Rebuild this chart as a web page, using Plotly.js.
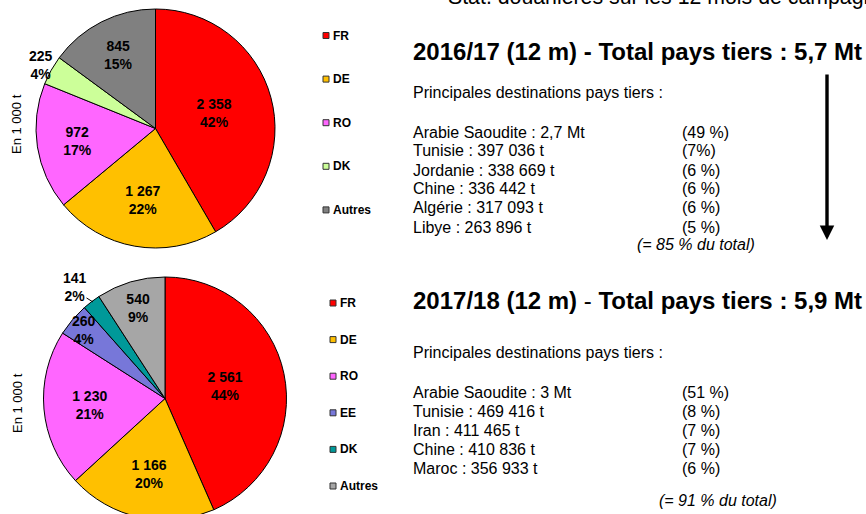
<!DOCTYPE html>
<html><head><meta charset="utf-8">
<script src="https://cdn.plot.ly/plotly-3.0.1.min.js"></script>
<style>
html,body{margin:0;padding:0;overflow:hidden;width:866px;height:514px;background:#fff}
#chart{position:absolute;left:0;top:-30px;width:866px;height:574px}
</style>
</head><body><div id="chart"></div>
<script>
// ---- data ----
const countries1 = ['FR', 'DE', 'RO', 'DK', 'Autres'];
const values1 = [2358, 1267, 972, 225, 845];
const pct1 = [42, 22, 17, 4, 15];
const colors1 = ['#FF0000', '#FFC000', '#FF66FF', '#CCFF99', '#808080'];

const countries2 = ['FR', 'DE', 'RO', 'EE', 'DK', 'Autres'];
const values2 = [2561, 1166, 1230, 260, 141, 540];
const pct2 = [44, 20, 21, 4, 2, 9];
const colors2 = ['#FF0000', '#FFC000', '#FF66FF', '#7777D9', '#009999', '#A6A6A6'];

const headerText = 'Stat. douanières sur les 12 mois de campagne';
const title1 = '<b>2016/17 (12 m) - Total pays tiers : 5,7 Mt</b>';
const title2 = '<b>2017/18 (12 m)</b> - <b>Total pays tiers : 5,9 Mt</b>';
const subTitle = 'Principales destinations pays tiers :';
const unitLabel = 'En 1 000 t';

const dest1 = ['Arabie Saoudite : 2,7 Mt', 'Tunisie : 397 036 t', 'Jordanie : 338 669 t',
  'Chine : 336 442 t', 'Algérie : 317 093 t', 'Libye : 263 896 t'];
const destPct1 = ['(49 %)', '(7%)', '(6 %)', '(6 %)', '(6 %)', '(5 %)'];
const total1 = '(= 85 % du total)';

const dest2 = ['Arabie Saoudite : 3 Mt', 'Tunisie : 469 416 t', 'Iran : 411 465 t',
  'Chine : 410 836 t', 'Maroc : 356 933 t'];
const destPct2 = ['(51 %)', '(8 %)', '(7 %)', '(7 %)', '(6 %)'];
const total2 = '(= 91 % du total)';

// ---- geometry helpers (page pixels -> paper) ----
const W = 866, T = 30, H = 574;
const X = px => px / W;
const Y = py => 1 - (py + T) / H;
const FONT = 'Liberation Sans, Arial, sans-serif';

// small slices get their labels placed beside the slice (see annotations)
const textPos1 = ['inside', 'inside', 'inside', 'none', 'inside'];
const textPos2 = ['inside', 'inside', 'inside', 'none', 'none', 'inside'];

const labelFont = {family: FONT, size: 14, color: '#000', weight: 'bold'};
const pieCommon = {
  type: 'pie', sort: false, direction: 'clockwise', rotation: 0, hole: 0,
  showlegend: false, hoverinfo: 'label+value+percent',
  texttemplate: '%{value:,}<br>%{customdata}%',
  insidetextorientation: 'horizontal',
  textfont: labelFont, insidetextfont: labelFont, outsidetextfont: labelFont
};

const trace1 = Object.assign({}, pieCommon, {
  labels: countries1, values: values1, customdata: pct1,
  marker: {colors: colors1, line: {color: '#000', width: 1}},
  textposition: textPos1,
  domain: {x: [X(36), X(275)], y: [Y(248), Y(9)]}
});
const trace2 = Object.assign({}, pieCommon, {
  labels: countries2, values: values2, customdata: pct2,
  marker: {colors: colors2, line: {color: '#000', width: 1}},
  textposition: textPos2,
  domain: {x: [X(43.5), X(286.5)], y: [Y(520), Y(277)]}
});

const annotations = [];
const shapes = [];
function txt(text, x, y, size, opts) {
  annotations.push(Object.assign({
    text: text, x: X(x), y: Y(y), xref: 'paper', yref: 'paper',
    xanchor: 'left', yanchor: 'middle', showarrow: false,
    font: {family: FONT, size: size, color: '#000'}
  }, opts || {}));
}
const fmt = v => String(v).replace(/\B(?=(\d{3})+(?!\d))/g, ' ');

// header (cut at top)
txt(headerText, 446, -3.5, 21.3);
// titles
txt(title1, 411, 51, 24);
txt(title2, 411, 300, 24);
// lists
txt(subTitle, 411, 92, 16);
dest1.forEach((d, i) => { txt(d, 411, 132 + 19 * i, 16); txt(destPct1[i], 680, 132 + 19 * i, 16); });
txt('<i>' + total1 + '</i>', 635, 244, 16);
txt(subTitle, 411, 352, 16);
dest2.forEach((d, i) => { txt(d, 411, 392 + 19 * i, 16); txt(destPct2[i], 680, 392 + 19 * i, 16); });
txt('<i>' + total2 + '</i>', 657, 500, 16);
// unit labels
txt(unitLabel, 16, 124, 13, {xanchor: 'center', textangle: -90});
txt(unitLabel, 17, 403, 13, {xanchor: 'center', textangle: -90});

// small slice labels
txt('<b>' + fmt(values1[3]) + '<br>' + pct1[3] + '%</b>', 41, 65, 14, {xanchor: 'center'});
txt('<b>' + fmt(values2[3]) + '<br>' + pct2[3] + '%</b>', 84, 330, 14, {xanchor: 'center'});
txt('<b>' + fmt(values2[4]) + '<br>' + pct2[4] + '%</b>', 75, 287, 14, {xanchor: 'center'});
// leader line for the DK 2017/18 label
annotations.push({x: X(93), y: Y(302), xref: 'paper', yref: 'paper', text: '',
  showarrow: true, ax: -8, ay: -5, arrowhead: 0, arrowwidth: 1, arrowcolor: '#000', standoff: 0});

// arrow
annotations.push({x: X(827), y: Y(240), xref: 'paper', yref: 'paper', text: '',
  showarrow: true, ax: 0, ay: -167, arrowhead: 2, arrowsize: 0.85, arrowwidth: 3.4,
  arrowcolor: '#000', standoff: 0});

// legends
function legend(names, colors, x0, y0, step) {
  names.forEach((n, i) => {
    const y = y0 + step * i;
    shapes.push({type: 'rect', xref: 'paper', yref: 'paper',
      x0: X(x0), x1: X(x0 + 6), y0: Y(y + 3), y1: Y(y - 3),
      fillcolor: colors[i], line: {color: '#333', width: 1}});
    txt('<b>' + n + '</b>', x0 + 8, y, 12);
  });
}
legend(countries1, colors1, 323, 35.5, 43.6);
legend(countries2, colors2, 330, 303, 36.6);

const layout = {
  width: W, height: H, margin: {l: 0, r: 0, t: 0, b: 0},
  paper_bgcolor: '#fff', plot_bgcolor: '#fff',
  separators: ', ',
  font: {family: FONT, color: '#000'},
  annotations: annotations, shapes: shapes, showlegend: false
};
Plotly.newPlot('chart', [trace1, trace2], layout, {displayModeBar: false, staticPlot: true});
</script>
</body></html>
